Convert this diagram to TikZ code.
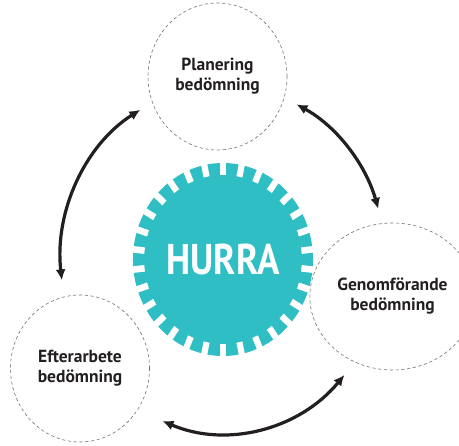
\documentclass[tikz,border=0pt]{standalone}
\usepackage{fontspec}
\setmainfont{PT Sans}
\usetikzlibrary{shapes.geometric,arrows.meta,calc}
\definecolor{hurrateal}{RGB}{47,190,196}
\definecolor{textmork}{RGB}{35,31,32}
\tikzset{
  fas/.style={ellipse, draw=black!55, dashed, dash pattern=on 3.2pt off 2.6pt,
    line width=0.6pt, minimum width=139, minimum height=147, align=center,
    font=\fontsize{17.5}{20}\selectfont\bfseries, text=textmork},
  cykelpil/.style={{Latex[length=11pt,width=10pt]}-{Latex[length=11pt,width=10pt]},
    line width=3.2pt, textmork}
}
\begin{document}
\begin{tikzpicture}[x=1pt, y=-1pt]
		\useasboundingbox (0,0) rectangle (459,446);
		% Kugghjulet i mitten
		\coordinate (c) at (223,259.5);
		\begin{scope}[shift={(c)}, xscale=0.933]
			\fill[hurrateal] (0,0) circle[radius=96.5];
			\foreach \v in {6,18,...,354}
				\fill[white, rotate=\v] (84.5,-3.3) rectangle (100,3.3);
		\end{scope}
		\node[text=white, font=\fontsize{43}{43}\selectfont\bfseries] (hurra) at (c)
			{\scalebox{0.86}[1]{HURRA}};
		% De tre faserna
		\node[fas] (planering) at (217.5,76.5) {Planering\\bedömning};
		\node[fas] (genomforande) at (392.5,296.5) {Genomförande\\bedömning};
		\node[fas] (efterarbete) at (80,368.5) {Efterarbete\\bedömning};
		% Pilarna runt cykeln
		\coordinate (p1) at ($(c)+(-63.1:162.3 and 174)$);
		\coordinate (p2) at ($(c)+(41.5:162.3 and 174)$);
		\coordinate (p3) at ($(c)+(-120.6:162.3 and 174)$);
		\draw[cykelpil] (p1) arc[start angle=-63.1, end angle=-16.9, x radius=162.3, y radius=174];
		\draw[cykelpil] (p2) arc[start angle=41.5, end angle=111.9, x radius=162.3, y radius=174];
		\draw[cykelpil] (p3) arc[start angle=-120.6, end angle=-186.9, x radius=162.3, y radius=174];
	\end{tikzpicture}
\end{document}
